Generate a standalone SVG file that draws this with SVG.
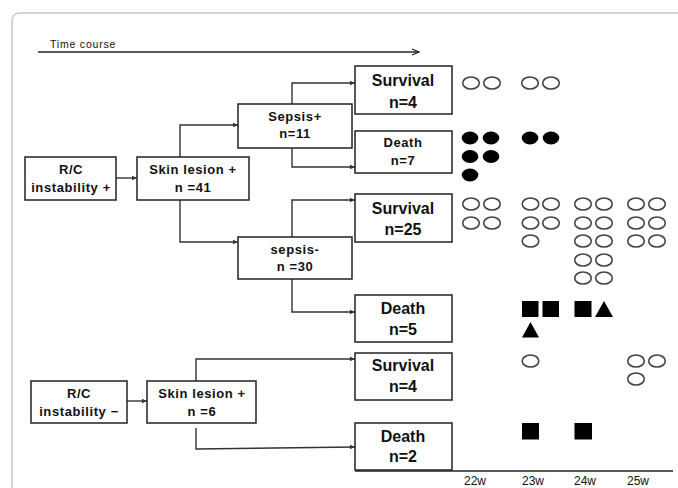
<svg xmlns="http://www.w3.org/2000/svg" width="678" height="488" viewBox="0 0 678 488">
<defs>
<marker id="ah" markerWidth="6" markerHeight="6" refX="5" refY="3" orient="auto" markerUnits="userSpaceOnUse">
<path d="M0,0.8 L5,3 L0,5.2 Z" fill="#333"/>
</marker>
<marker id="ah2" markerWidth="9" markerHeight="8" refX="8" refY="4" orient="auto" markerUnits="userSpaceOnUse">
<path d="M1,1 L8,4 L1,7" fill="none" stroke="#222" stroke-width="1.3"/>
</marker>
</defs>
<style>
.box{fill:#fff;stroke:#222;stroke-width:1.5}
.c{fill:none;stroke:#333;stroke-width:1.4}
.t{font-family:"Liberation Sans",Arial,sans-serif;font-weight:bold;fill:#111;text-anchor:middle}
.s13{font-size:13px;letter-spacing:0.6px}
.s16{font-size:16px}
.o{fill:none;stroke:#444;stroke-width:1.6}
.f{fill:#000}
.ax{font-family:"Liberation Sans",Arial,sans-serif;font-size:12px;fill:#111;text-anchor:middle}
</style>
<rect width="678" height="488" fill="#fff"/>
<path d="M12,488 L12,21 Q12,13 20,13 L678,13" fill="none" stroke="#c8c8c8" stroke-width="1.5"/>
<g id="timecourse">
<text x="50" y="48" font-family="Liberation Sans,Arial,sans-serif" font-size="10.5" letter-spacing="0.8" fill="#111">Time course</text>
<line x1="38" y1="52" x2="419" y2="52" stroke="#222" stroke-width="1.5" marker-end="url(#ah2)"/>
</g>
<g id="connectors">
<path class="c" d="M116,178 H137" marker-end="url(#ah)"/>
<path class="c" d="M180,157 V125 H238" marker-end="url(#ah)"/>
<path class="c" d="M180,200 V242 H238" marker-end="url(#ah)"/>
<path class="c" d="M292,104 V83 H355" marker-end="url(#ah)"/>
<path class="c" d="M292,148 V167 H355" marker-end="url(#ah)"/>
<path class="c" d="M292,237 V200 H355" marker-end="url(#ah)"/>
<path class="c" d="M292,279 V312 H355" marker-end="url(#ah)"/>
<path class="c" d="M127,401 H147" marker-end="url(#ah)"/>
<path class="c" d="M196,381 V359 H355" marker-end="url(#ah)"/>
<path class="c" d="M196,428 V449 L355,447" marker-end="url(#ah)"/>
</g>
<g id="rc_plus">
<rect class="box" x="25" y="157" width="91" height="43"/>
<text class="t s13" x="71" y="174" letter-spacing="3">R/C</text>
<text class="t s13" x="71" y="192">instability +</text>
</g>
<g id="skin41">
<rect class="box" x="137" y="157" width="112" height="43"/>
<text class="t s13" x="193" y="174">Skin lesion +</text>
<text class="t s13" x="193" y="192">n =41</text>
</g>
<g id="sepsis_plus">
<rect class="box" x="238" y="104" width="114" height="44"/>
<text class="t s13" x="295" y="121" letter-spacing="1.2">Sepsis+</text>
<text class="t s13" x="295" y="138" letter-spacing="1">n=11</text>
</g>
<g id="sepsis_minus">
<rect class="box" x="238" y="237" width="114" height="42"/>
<text class="t s13" x="295" y="254" letter-spacing="1.2">sepsis-</text>
<text class="t s13" x="295" y="271" letter-spacing="0.5">n =30</text>
</g>
<g id="surv4a">
<rect class="box" x="355" y="66" width="97" height="48"/>
<text class="t s16" x="403" y="86">Survival</text>
<text class="t s16" x="403" y="108">n=4</text>
</g>
<g id="death7">
<rect class="box" x="355" y="131" width="97" height="42"/>
<text class="t s13" x="403" y="147" letter-spacing="1.4">Death</text>
<text class="t s13" x="403" y="165" letter-spacing="1">n=7</text>
</g>
<g id="surv25">
<rect class="box" x="355" y="194" width="97" height="48"/>
<text class="t s16" x="403" y="214">Survival</text>
<text class="t s16" x="403" y="235">n=25</text>
</g>
<g id="death5">
<rect class="box" x="355" y="295" width="97" height="47"/>
<text class="t s16" x="403" y="314">Death</text>
<text class="t s16" x="403" y="335">n=5</text>
</g>
<g id="rc_minus">
<rect class="box" x="31" y="381" width="96" height="42"/>
<text class="t s13" x="79" y="398" letter-spacing="3">R/C</text>
<text class="t s13" x="79" y="416">instability −</text>
</g>
<g id="skin6">
<rect class="box" x="147" y="381" width="109" height="42"/>
<text class="t s13" x="202" y="398">Skin lesion +</text>
<text class="t s13" x="202" y="416">n =6</text>
</g>
<g id="surv4b">
<rect class="box" x="355" y="353" width="97" height="47"/>
<text class="t s16" x="403" y="371">Survival</text>
<text class="t s16" x="403" y="392">n=4</text>
</g>
<g id="death2">
<rect class="box" x="355" y="423" width="97" height="47"/>
<text class="t s16" x="403" y="442">Death</text>
<text class="t s16" x="403" y="462">n=2</text>
</g>
<g id="axis">
<line x1="355" y1="471" x2="673" y2="471" stroke="#222" stroke-width="1.5"/>
<text class="ax" x="475" y="485">22w</text>
<text class="ax" x="533" y="485">23w</text>
<text class="ax" x="585" y="485">24w</text>
<text class="ax" x="638" y="485">25w</text>
</g>
<g id="symbols">
<ellipse class="o" cx="471" cy="83" rx="8.3" ry="6"/>
<ellipse class="o" cx="492" cy="83" rx="8.3" ry="6"/>
<ellipse class="o" cx="530" cy="83" rx="8.3" ry="6"/>
<ellipse class="o" cx="551" cy="83" rx="8.3" ry="6"/>
<ellipse class="f" cx="470" cy="138" rx="8.3" ry="6.5"/>
<ellipse class="f" cx="491" cy="138" rx="8.3" ry="6.5"/>
<ellipse class="f" cx="470" cy="156.5" rx="8.3" ry="6.5"/>
<ellipse class="f" cx="491" cy="156.5" rx="8.3" ry="6.5"/>
<ellipse class="f" cx="470" cy="175" rx="8.3" ry="6.5"/>
<ellipse class="f" cx="530" cy="138" rx="8.3" ry="6.5"/>
<ellipse class="f" cx="551" cy="138" rx="8.3" ry="6.5"/>
<ellipse class="o" cx="471" cy="204" rx="8.3" ry="6"/>
<ellipse class="o" cx="492" cy="204" rx="8.3" ry="6"/>
<ellipse class="o" cx="471" cy="223" rx="8.3" ry="6"/>
<ellipse class="o" cx="492" cy="223" rx="8.3" ry="6"/>
<ellipse class="o" cx="530.5" cy="204" rx="8.3" ry="6"/>
<ellipse class="o" cx="551" cy="204" rx="8.3" ry="6"/>
<ellipse class="o" cx="530.5" cy="223" rx="8.3" ry="6"/>
<ellipse class="o" cx="551" cy="223" rx="8.3" ry="6"/>
<ellipse class="o" cx="530.5" cy="241" rx="8.3" ry="6"/>
<ellipse class="o" cx="583" cy="204" rx="8.3" ry="6"/>
<ellipse class="o" cx="604" cy="204" rx="8.3" ry="6"/>
<ellipse class="o" cx="583" cy="223" rx="8.3" ry="6"/>
<ellipse class="o" cx="604" cy="223" rx="8.3" ry="6"/>
<ellipse class="o" cx="583" cy="241" rx="8.3" ry="6"/>
<ellipse class="o" cx="604" cy="241" rx="8.3" ry="6"/>
<ellipse class="o" cx="583" cy="260" rx="8.3" ry="6"/>
<ellipse class="o" cx="604" cy="260" rx="8.3" ry="6"/>
<ellipse class="o" cx="583" cy="278" rx="8.3" ry="6"/>
<ellipse class="o" cx="604" cy="278" rx="8.3" ry="6"/>
<ellipse class="o" cx="636" cy="204" rx="8.3" ry="6"/>
<ellipse class="o" cx="657" cy="204" rx="8.3" ry="6"/>
<ellipse class="o" cx="636" cy="223" rx="8.3" ry="6"/>
<ellipse class="o" cx="657" cy="223" rx="8.3" ry="6"/>
<ellipse class="o" cx="636" cy="241" rx="8.3" ry="6"/>
<ellipse class="o" cx="657" cy="241" rx="8.3" ry="6"/>
<rect class="f" x="522" y="301" width="16.5" height="16"/>
<rect class="f" x="542.5" y="301" width="16.5" height="16"/>
<rect class="f" x="574.5" y="301" width="17" height="16"/>
<polygon class="f" points="595,317 604,301 613,317"/>
<polygon class="f" points="522,337.5 530.5,322 539,337.5"/>
<ellipse class="o" cx="530.5" cy="361" rx="8.3" ry="6"/>
<ellipse class="o" cx="636" cy="361" rx="8.3" ry="6"/>
<ellipse class="o" cx="657" cy="361" rx="8.3" ry="6"/>
<ellipse class="o" cx="636" cy="379" rx="8.3" ry="6"/>
<rect class="f" x="522" y="423" width="17" height="16.5"/>
<rect class="f" x="574.5" y="423" width="17.5" height="16.5"/>
</g>
</svg>
